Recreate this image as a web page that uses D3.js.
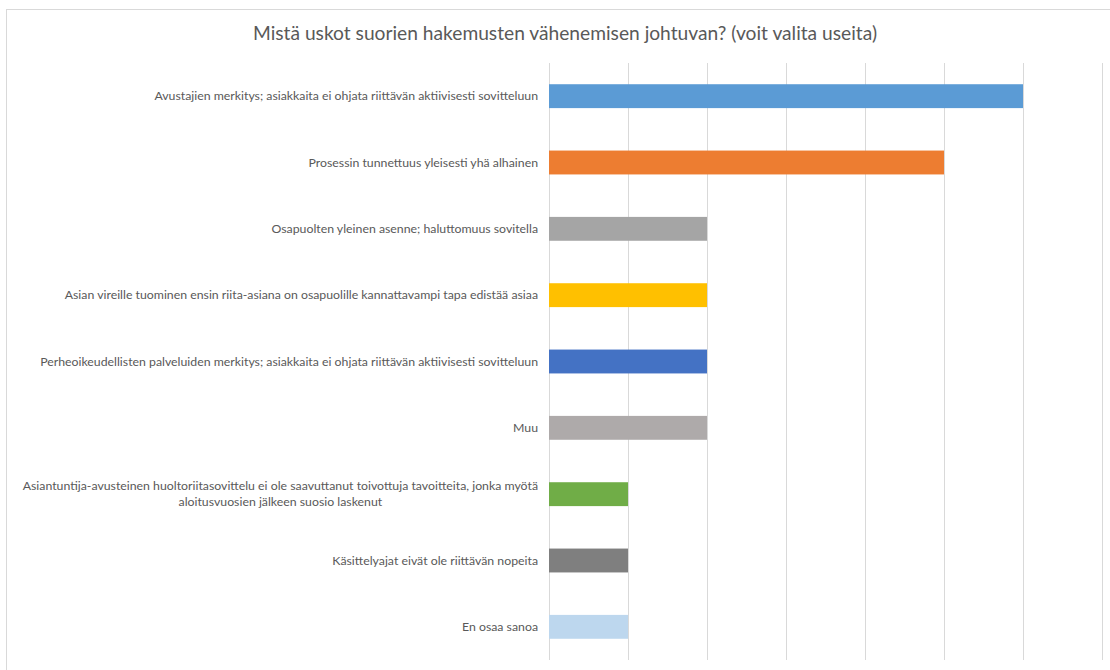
<!DOCTYPE html>
<html>
<head>
<meta charset="utf-8">
<script src="https://cdn.jsdelivr.net/npm/d3@7"></script>
<style>
  html, body { margin: 0; padding: 0; background: #ffffff; }
  svg { display: block; }
</style>
</head>
<body>
<svg id="chart" width="1110" height="670"></svg>
<script>
const title = "Mistä uskot suorien hakemusten vähenemisen johtuvan? (voit valita useita)";
const categories = [
  "Avustajien merkitys; asiakkaita ei ohjata riittävän aktiivisesti sovitteluun",
  "Prosessin tunnettuus yleisesti yhä alhainen",
  "Osapuolten yleinen asenne; haluttomuus sovitella",
  "Asian vireille tuominen ensin riita-asiana on osapuolille kannattavampi tapa edistää asiaa",
  "Perheoikeudellisten palveluiden merkitys; asiakkaita ei ohjata riittävän aktiivisesti sovitteluun",
  "Muu",
  "Asiantuntija-avusteinen huoltoriitasovittelu ei ole saavuttanut toivottuja tavoitteita, jonka myötä aloitusvuosien jälkeen suosio laskenut",
  "Käsittelyajat eivät ole riittävän nopeita",
  "En osaa sanoa"
];
const values = [6, 5, 2, 2, 2, 2, 1, 1, 1];
const colors = ["#5B9BD5", "#ED7D31", "#A5A5A5", "#FFC000", "#4472C4", "#AEAAAA", "#70AD47", "#7F7F7F", "#BDD7EE"];
const xTicks = [0, 1, 2, 3, 4, 5, 6, 7];

const svg = d3.select("#chart");
const FONT = "Lato, 'Open Sans', sans-serif";
const textColor = "#595959";
const gridColor = "#D9D9D9";

// chart border (top and left visible)
svg.append("rect")
  .attr("x", 6.5).attr("y", 9.5)
  .attr("width", 1130).attr("height", 700)
  .attr("fill", "none").attr("stroke", gridColor).attr("stroke-width", 1);

const plot = { left: 549, right: 1102, top: 63, bottom: 660 };

const x = d3.scaleLinear().domain([0, 7]).range([plot.left, plot.right]);
const y = d3.scaleBand().domain(categories).range([plot.top, plot.bottom])
  .paddingInner(0.64).paddingOuter(0.32);

// gridlines
const grid = svg.append("g")
  .attr("transform", `translate(0,${plot.bottom})`)
  .call(d3.axisBottom(x).tickValues(xTicks).tickFormat("").tickSize(-(plot.bottom - plot.top)));
grid.select(".domain").remove();
grid.selectAll(".tick line").attr("stroke", gridColor).attr("stroke-width", 1);

// title
svg.append("text")
  .attr("x", 565).attr("y", 39.5)
  .attr("text-anchor", "middle")
  .attr("font-family", FONT).attr("font-size", 19.2)
  .attr("fill", textColor)
  .text(title);

// bars
svg.append("g").selectAll("rect")
  .data(categories)
  .join("rect")
  .attr("x", x(0))
  .attr("y", d => y(d))
  .attr("width", (d, i) => x(values[i]) - x(0))
  .attr("height", y.bandwidth())
  .attr("fill", (d, i) => colors[i]);

// category labels with wrapping
const labelRight = 538;
const maxWidth = 528;
const lineH = 16;
const labels = svg.append("g")
  .attr("font-family", FONT).attr("font-size", 12.3)
  .attr("fill", textColor);

categories.forEach((c, i) => {
  const cy = y(c) + y.bandwidth() / 2;
  const t = labels.append("text").attr("x", labelRight).attr("text-anchor", "end").text(c);
  const w = t.node().getComputedTextLength();
  if (w <= maxWidth) {
    t.attr("y", cy).attr("dy", "0.35em");
    return;
  }
  t.remove();
  // greedy word wrap
  const words = c.split(" ");
  const lines = [];
  let cur = "";
  const probe = labels.append("text");
  words.forEach(wd => {
    const test = cur ? cur + " " + wd : wd;
    probe.text(test);
    if (probe.node().getComputedTextLength() > maxWidth && cur) {
      lines.push(cur);
      cur = wd;
    } else {
      cur = test;
    }
  });
  if (cur) lines.push(cur);
  const widths = lines.map(l => { probe.text(l); return probe.node().getComputedTextLength(); });
  probe.remove();
  const maxW = d3.max(widths);
  const cx = labelRight - maxW / 2;
  const y0 = cy - (lines.length - 1) * lineH / 2;
  lines.forEach((l, k) => {
    labels.append("text")
      .attr("x", cx).attr("y", y0 + k * lineH).attr("dy", "0.35em")
      .attr("text-anchor", "middle")
      .text(l);
  });
});
</script>
</body>
</html>
